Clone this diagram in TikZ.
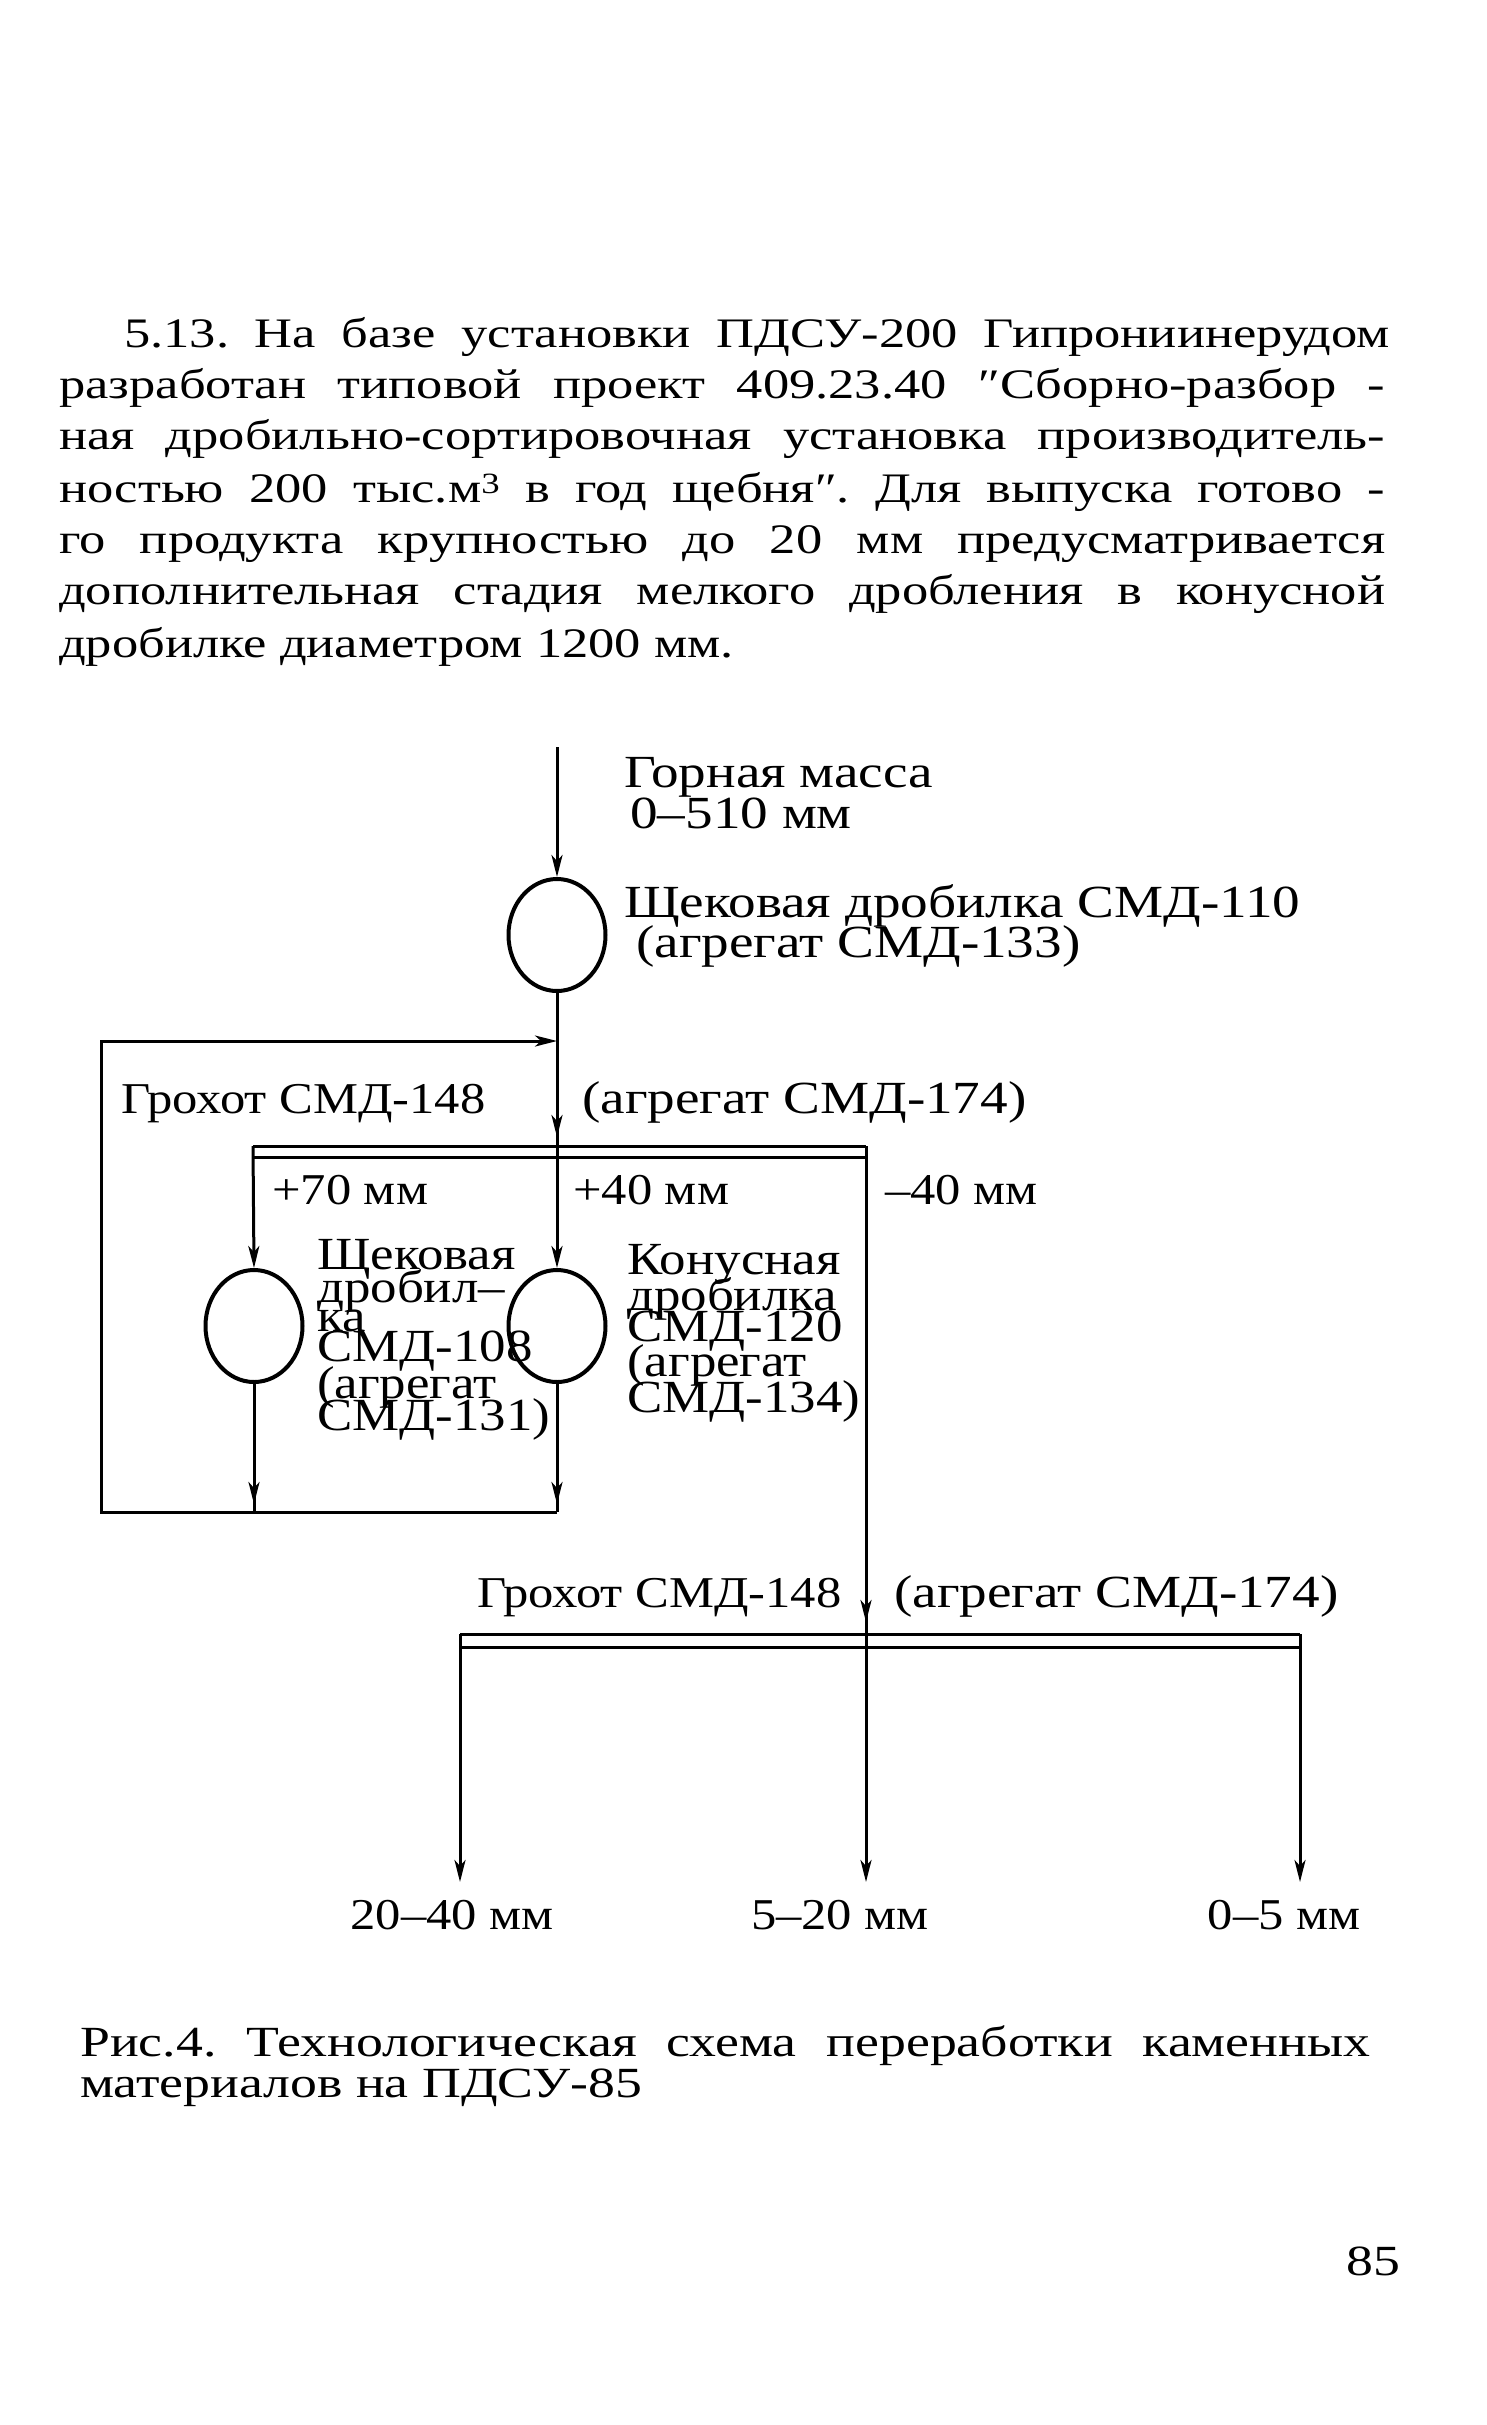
\documentclass[tikz,border=0pt]{standalone}
\usepackage{fontspec}
\setmainfont{Liberation Serif}
\newfontfamily\tw[FakeStretch=1.15]{Liberation Serif}
\newfontfamily\twb[FakeStretch=1.2]{Liberation Serif}
\newfontfamily\twp[FakeStretch=1.25]{Liberation Serif}
\usetikzlibrary{arrows.meta,shapes.geometric,decorations.markings}
\setlength{\lineskiplimit}{-1000pt}
\frenchspacing
\begin{document}
\begin{tikzpicture}[x=1pt,y=-1pt,
  ln/.style={line width=3pt},
  crusher/.style={ellipse,draw,line width=4pt,minimum width=97pt,minimum height=112pt,inner sep=0pt},
  tip/.style={-{Stealth[length=22pt,width=11pt,inset=6pt]}},
  arrowat/.style={postaction={decorate},decoration={markings,mark=at position #1 with {\arrow{Stealth[length=22pt,width=11pt,inset=6pt]}}}},
  lbl/.style={font=\twb\frenchspacing\fontsize{46}{46}\selectfont, inner sep=0pt, anchor=mid west},
  lbls/.style={font=\tw\frenchspacing\fontsize{44}{44}\selectfont, inner sep=0pt, anchor=mid west},
  lblc/.style={font=\tw\frenchspacing\fontsize{46}{46}\selectfont, inner sep=0pt, anchor=mid west},
  ctr/.style={font=\tw\frenchspacing\fontsize{44}{44}\selectfont, inner sep=0pt, anchor=mid},
  ptext/.style={font=\twp\frenchspacing\fontsize{42}{50}\selectfont, inner sep=0pt, anchor=mid west},
  ctext/.style={font=\twp\frenchspacing\fontsize{43}{50}\selectfont, inner sep=0pt, anchor=mid west}
]
\path[use as bounding box, fill=white] (0,0) rectangle (1487,2425);

% paragraph
\node[ptext] (p1) at (124,345) {\makebox[1266pt][s]{5.13. На базе установки ПДСУ-200 Гипрониинерудом}};
\node[ptext] (p2) at (59,396) {\makebox[1326pt][s]{разработан типовой проект 409.23.40 ″Сборно-разбор -}};
\node[ptext] (p3) at (59,447) {\makebox[1326pt][s]{ная дробильно-сортировочная установка производитель-}};
\node[ptext] (p4) at (59,500) {\makebox[1326pt][s]{ностью 200 тыс.м\textsuperscript{3} в год щебня″. Для выпуска готово -}};
\node[ptext] (p5) at (59,551) {\makebox[1326pt][s]{го продукта крупностью до 20 мм предусматривается}};
\node[ptext] (p6) at (59,602) {\makebox[1326pt][s]{дополнительная стадия мелкого дробления в конусной}};
\node[ptext] (p7) at (59,655) {дробилке диаметром 1200 мм.};

% crushers
\node[crusher] (c1) at (557,935) {};
\node[crusher] (c2) at (254,1326) {};
\node[crusher] (c3) at (557,1326) {};

% coordinates
\coordinate (top) at (557,747);
\coordinate (s1L) at (253,1146);
\coordinate (s1M) at (557,1146);
\coordinate (s1R) at (866,1146);
\coordinate (s1La) at (253,1157);
\coordinate (s1Ra) at (866,1157);
\coordinate (b2) at (254,1512);
\coordinate (b3) at (557,1512);
\coordinate (bl) at (101,1512);
\coordinate (tl) at (101,1041);
\coordinate (tm) at (557,1041);
\coordinate (s2L) at (460,1634);
\coordinate (s2M) at (866,1634);
\coordinate (s2R) at (1300,1634);
\coordinate (s2La) at (460,1647);
\coordinate (s2Ra) at (1300,1647);
\coordinate (o1) at (460,1882);
\coordinate (o2) at (866,1882);
\coordinate (o3) at (1300,1882);

% connectors
\draw[ln,tip] (top) -- (c1.north);
\draw[ln,arrowat=-9pt] (c1.south) -- (s1M);
\draw[ln,tip] (s1M) -- (c3.north);
\draw[ln] (s1L) -- (s1R);
\draw[ln] (s1La) -- (s1Ra);
\draw[ln,tip] (s1L) -- (c2.north);
\draw[ln,arrowat=-8pt] (c2.south) -- (b2);
\draw[ln,arrowat=-8pt] (c3.south) -- (b3);
\draw[ln,tip] (b3) -- (bl) -- (tl) -- (tm);
\draw[ln,arrowat=-12pt] (s1R) -- (s2M);
\draw[ln] (s2L) -- (s2R);
\draw[ln] (s2La) -- (s2Ra);
\draw[ln,tip] (s2L) -- (o1);
\draw[ln,tip] (s2M) -- (o2);
\draw[ln,tip] (s2R) -- (o3);

% labels
\node[lbl] (t1) at (624,785) {Горная масса};
\node[lbl] (t2) at (630,826) {0–510 мм};
\node[lbl] (t3) at (624,915) {Щековая дробилка СМД-110};
\node[lbl] (t4) at (636,955) {(агрегат СМД-133)};
\node[lbls] (g1) at (121,1111) {Грохот СМД-148};
\node[lbl] (g1a) at (582,1111) {(агрегат СМД-174)};
\node[lbls] (f70) at (272,1202) {+70 мм};
\node[lbls] (f40) at (573,1202) {+40 мм};
\node[lbls] (m40) at (885,1202) {–40 мм};

\node[lblc] (l1) at (317,1267) {Щековая};
\node[lblc] (l2) at (317,1300) {дробил–};
\node[lblc] (l3) at (317,1329) {ка};
\node[lblc] (l4) at (317,1359) {СМД-108};
\node[lblc] (l5) at (317,1396) {(агрегат};
\node[lblc] (l6) at (317,1428) {СМД-131)};

\node[lblc] (r1) at (627,1272) {Конусная};
\node[lblc] (r2) at (627,1308) {дробилка};
\node[lblc] (r3) at (627,1339) {СМД-120};
\node[lblc] (r4) at (627,1374) {(агрегат};
\node[lblc] (r5) at (627,1410) {СМД-134)};

\node[lbls] (g2) at (477,1605) {Грохот СМД-148};
\node[lbl] (g2a) at (894,1605) {(агрегат СМД-174)};

\node[ctr] (o1t) at (452,1927) {20–40 мм};
\node[ctr] (o2t) at (840,1927) {5–20 мм};
\node[ctr] (o3t) at (1284,1927) {0–5 мм};

% caption
\node[ctext] (cap1) at (80,2054) {\makebox[1290pt][s]{Рис.4. Технологическая схема переработки каменных}};
\node[ctext] (cap2) at (80,2095) {материалов на ПДСУ-85};
\node[ctext] (pg) at (1346,2273) {85};
\end{tikzpicture}
\end{document}
